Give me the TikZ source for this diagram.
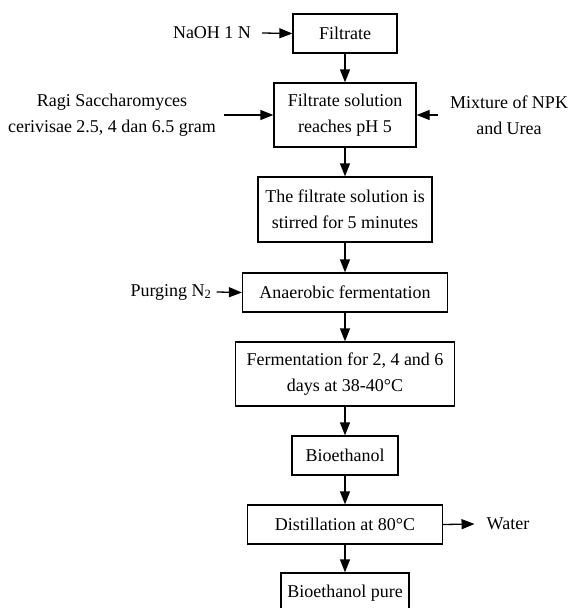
\documentclass[tikz,border=0pt]{standalone}
\usepackage{fontspec}
\setmainfont{Liberation Serif}
\usetikzlibrary{arrows.meta}
\begin{document}
\begin{tikzpicture}[x=1pt,y=-1pt,
  font=\fontsize{18}{26}\selectfont,
  box/.style={draw=black,line width=1.3pt,fill=white,align=center,inner sep=0pt,anchor=center},
  lbl/.style={align=center,inner sep=0pt,anchor=center},
  arr/.style={line width=1.3pt,-{Triangle[length=13pt,width=10pt]}}]
\useasboundingbox (0,0) rectangle (571,608);
\clip (0,0) rectangle (571,608);
% main boxes
\node[box,minimum width=104pt,minimum height=39pt] (filtrate) at (345,33.5) {Filtrate};
\node[box,minimum width=142pt,minimum height=64pt] (solution) at (345,115) {Filtrate solution\\reaches pH 5};
\node[box,minimum width=174pt,minimum height=65pt] (stirred) at (345,209.5) {The filtrate solution is\\stirred for 5 minutes};
\node[box,minimum width=205pt,minimum height=39pt] (anaerobic) at (345,292.5) {Anaerobic fermentation};
\node[box,minimum width=219pt,minimum height=64pt] (ferment) at (345,374) {Fermentation for 2, 4 and 6\\days at 38-40\textdegree C};
\node[box,minimum width=106pt,minimum height=39pt] (bioeth) at (345,455.5) {Bioethanol};
\node[box,minimum width=195pt,minimum height=39pt] (distil) at (345,524.5) {Distillation at 80\textdegree C};
\node[box,minimum width=128pt,minimum height=39pt,text depth=0pt] (pure) at (345,592.5) {\raisebox{3pt}{Bioethanol pure}};
% side labels
\node[lbl] (naoh) at (212,33) {NaOH 1 N};
\node[lbl] (ragi) at (112,115) {Ragi Saccharomyces\\cerivisae 2.5, 4 dan 6.5 gram};
\node[lbl] (npk) at (509,115) {Mixture of NPK\\and Urea};
\node[lbl] (purging) at (171,292) {Purging N\textsubscript{2}};
\node[lbl] (water) at (508,524) {Water};
% vertical flow
\draw[arr] (filtrate) -- (solution);
\draw[arr] (solution) -- (stirred);
\draw[arr] (stirred) -- (anaerobic);
\draw[arr] (anaerobic) -- (ferment);
\draw[arr] (ferment) -- (bioeth);
\draw[arr] (bioeth) -- (distil);
\draw[arr] (distil) -- (pure);
% side inputs
\draw[arr] ([xshift=11pt]naoh.east) -- (filtrate.west);
\draw[arr] ([xshift=8pt]ragi.east) -- (solution.west |- ragi.east);
\draw[arr] ([xshift=-12pt]npk.west) -- (solution.east |- npk.west);
\draw[arr] ([xshift=5pt]purging.east) -- (anaerobic.west);
\draw[arr] (distil.east) -- ([xshift=-12pt]water.west);
\end{tikzpicture}
\end{document}
